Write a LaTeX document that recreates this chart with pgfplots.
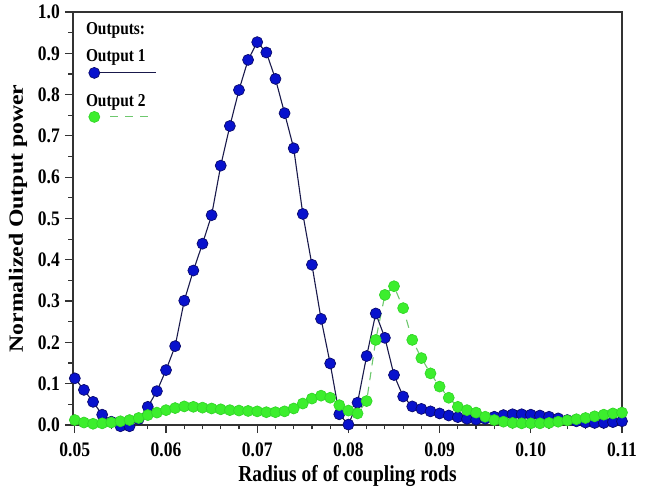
\documentclass[border=0pt]{standalone}
\usepackage{fontspec}
\setmainfont{Liberation Serif}
\newfontfamily\nf[FakeStretch=0.85]{Liberation Serif}
\newfontfamily\yf[FakeStretch=1.18]{Liberation Serif}
\usepackage{pgfplots}
\pgfplotsset{compat=1.18}
\definecolor{bluef}{RGB}{8,18,205}
\definecolor{blued}{RGB}{10,10,110}
\definecolor{bluel}{RGB}{25,25,75}
\definecolor{greenf}{RGB}{60,238,45}
\definecolor{greene}{RGB}{50,215,40}
\definecolor{greenl}{RGB}{110,200,110}
\newcommand{\legfont}{\nf\bfseries\fontsize{18.2}{20}\selectfont}
\tikzset{
  out1/.style={color=bluel, line width=1.1bp, mark=*, mark size=5.5bp, mark options={solid, fill=bluef, draw=blued, line width=0.7bp}},
  out2/.style={color=greenl, dash pattern=on 8.3bp off 6.7bp, line width=1.1bp, mark=*, mark size=5.5bp, mark options={solid, fill=greenf, draw=greene, line width=0.7bp}},
}
\begin{document}
\begin{tikzpicture}
\begin{axis}[
  scale only axis, width=549bp, height=413bp,
  xmin=0.0498, xmax=0.110, ymin=0, ymax=1,
  clip=false,
  axis line style={draw=black!80, line width=1.6bp},
  xtick={0.05,0.06,0.07,0.08,0.09,0.10,0.11},
  ytick={0,0.1,0.2,0.3,0.4,0.5,0.6,0.7,0.8,0.9,1.0},
  minor x tick num=4, minor y tick num=1,
  tick align=outside, xtick pos=bottom, ytick pos=left,
  major tick length=8bp, minor tick length=4.5bp,
  every tick/.style={black!80, line width=1.2bp},
  /pgf/number format/assume math mode=true,
  tick label style={font=\nf\bfseries\fontsize{20.7}{22}\selectfont, inner sep=0pt},
  x tick label style={/pgf/number format/fixed, /pgf/number format/fixed zerofill, /pgf/number format/precision=2, anchor=north, yshift=-9.5bp},
  y tick label style={/pgf/number format/fixed, /pgf/number format/fixed zerofill, /pgf/number format/precision=1, anchor=east, xshift=-5bp},
  xlabel={Radius of of coupling rods},
  ylabel={Normalized Output power},
  every axis x label/.style={at={(axis description cs:0.5,-0.1356)}, anchor=base, font=\nf\bfseries\fontsize{23}{25}\selectfont},
  every axis y label/.style={at={(axis description cs:-0.1002,0.5)}, rotate=90, anchor=center, font=\yf\bfseries\fontsize{20.2}{22}\selectfont},
  legend style={at={(axis description cs:0.0237,0.9743)}, anchor=north west, draw=none, fill=none, inner sep=0pt, outer sep=0pt, row sep=0pt, column sep=0pt, cells={anchor=west}, nodes={inner sep=0pt}},
]
\addlegendimage{legend image code/.code={
  \node[anchor=base west, inner sep=0pt, font=\legfont] at (-8.3bp,38.3bp) {Outputs:};
  \node[anchor=base west, inner sep=0pt, font=\legfont] at (-8.3bp,11.6bp) {Output 1};
  \draw[out1, mark repeat=2, mark phase=1] plot coordinates {(0bp,0bp) (61.7bp,0bp)};
  \node[anchor=base west, inner sep=0pt, font=\legfont] at (-8.3bp,-33.4bp) {Output 2};
  \draw[out2, dash phase=0bp] (15.7bp,-44bp) -- (58.4bp,-44bp);
  \path[out2] plot coordinates {(0bp,-44bp)};
}}
\addlegendentry{\mbox{}}
\addplot[out1] table {
x y
0.050 0.113
0.051 0.085
0.052 0.056
0.053 0.025
0.054 0.008
0.055 -0.003
0.056 -0.003
0.057 0.014
0.058 0.044
0.059 0.082
0.060 0.133
0.061 0.191
0.062 0.301
0.063 0.374
0.064 0.439
0.065 0.508
0.066 0.628
0.067 0.724
0.068 0.811
0.069 0.884
0.070 0.927
0.071 0.902
0.072 0.838
0.073 0.755
0.074 0.670
0.075 0.511
0.076 0.388
0.077 0.257
0.078 0.149
0.079 0.026
0.080 0.001
0.081 0.054
0.082 0.167
0.083 0.270
0.084 0.211
0.085 0.121
0.086 0.069
0.087 0.045
0.088 0.039
0.089 0.033
0.090 0.028
0.091 0.023
0.092 0.019
0.093 0.015
0.094 0.013
0.095 0.015
0.096 0.020
0.097 0.024
0.098 0.026
0.099 0.026
0.100 0.025
0.101 0.023
0.102 0.020
0.103 0.016
0.104 0.012
0.105 0.009
0.106 0.006
0.107 0.005
0.108 0.005
0.109 0.007
0.110 0.009
};
\addplot[out2] table {
x y
0.050 0.012
0.051 0.006
0.052 0.003
0.053 0.004
0.054 0.006
0.055 0.009
0.056 0.012
0.057 0.017
0.058 0.024
0.059 0.030
0.060 0.036
0.061 0.041
0.062 0.045
0.063 0.044
0.064 0.042
0.065 0.040
0.066 0.038
0.067 0.036
0.068 0.035
0.069 0.034
0.070 0.033
0.071 0.031
0.072 0.031
0.073 0.033
0.074 0.040
0.075 0.052
0.076 0.064
0.077 0.071
0.078 0.066
0.079 0.048
0.080 0.035
0.081 0.028
0.082 0.058
0.083 0.206
0.084 0.315
0.085 0.336
0.086 0.283
0.087 0.206
0.088 0.162
0.089 0.125
0.090 0.093
0.091 0.066
0.092 0.044
0.093 0.036
0.094 0.030
0.095 0.020
0.096 0.012
0.097 0.008
0.098 0.005
0.099 0.004
0.100 0.004
0.101 0.004
0.102 0.005
0.103 0.008
0.104 0.011
0.105 0.014
0.106 0.017
0.107 0.021
0.108 0.025
0.109 0.028
0.110 0.030
};
\end{axis}
\path ([shift={(-73bp,-61bp)}]current axis.south west) rectangle ([shift={(24bp,12bp)}]current axis.north east);
\end{tikzpicture}
\end{document}
